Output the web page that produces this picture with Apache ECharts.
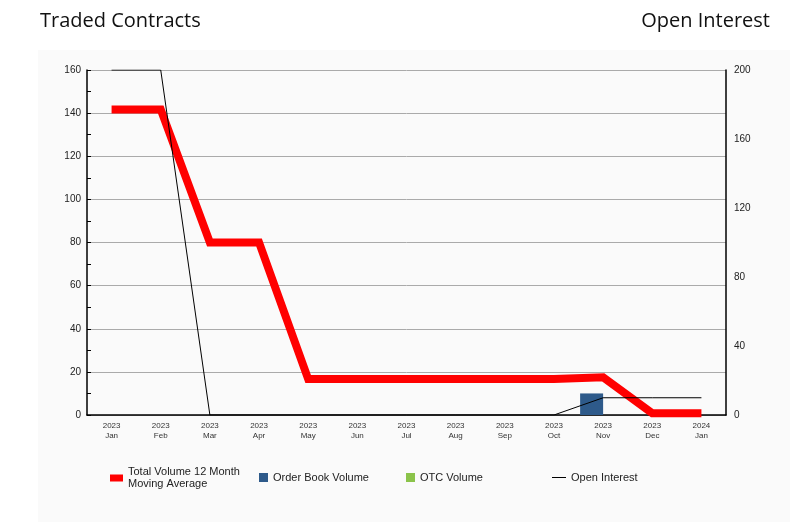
<!DOCTYPE html>
<html>
<head>
<meta charset="utf-8">
<script src="https://cdn.jsdelivr.net/npm/echarts@6/dist/echarts.min.js"></script>
<style>html,body{margin:0;padding:0;background:#fff;}#c{width:801px;height:524px;}</style>
</head>
<body>
<div id="c"></div>
<script>
var months = ['Jan','Feb','Mar','Apr','May','Jun','Jul','Aug','Sep','Oct','Nov','Dec','Jan'];
var years = ['2023','2023','2023','2023','2023','2023','2023','2023','2023','2023','2023','2023','2024'];
var movingAverage = [141.7, 141.7, 80, 80, 16.7, 16.7, 16.7, 16.7, 16.7, 16.7, 17.5, 0.8, 0.8];
var orderBookVolume = [0, 0, 0, 0, 0, 0, 0, 0, 0, 0, 10, 0, 0];
var otcVolume = [0, 0, 0, 0, 0, 0, 0, 0, 0, 0, 0, 0, 0];
var openInterest = [200, 200, 0, 0, 0, 0, 0, 0, 0, 0, 10, 10, 10];

var categories = months.map(function (m, i) { return years[i] + '\n' + m; });
var FONT = 'Liberation Sans, Arial, sans-serif';
var MA_NAME = 'Total Volume 12 Month Moving Average';

var chart = echarts.init(document.getElementById('c'), null, { renderer: 'canvas' });
chart.setOption({
  backgroundColor: '#ffffff',
  animation: false,
  graphic: [{
    type: 'rect', left: 38, top: 50, z: -10,
    shape: { width: 752, height: 472 },
    style: { fill: '#fafafa' }
  }],
  title: [
    { text: 'Traded Contracts', left: 35, top: 6,
      textStyle: { fontFamily: 'Open Sans', fontSize: 20, fontWeight: 'normal', color: '#111' } },
    { text: 'Open Interest', right: 26, top: 6,
      textStyle: { fontFamily: 'Open Sans', fontSize: 20, fontWeight: 'normal', color: '#111' } }
  ],
  legend: [
    { data: [MA_NAME], left: 110, top: 466, padding: 0, icon: 'rect', itemWidth: 13, itemHeight: 7,
      formatter: function () { return 'Total Volume 12 Month\nMoving Average'; },
      textStyle: { fontFamily: FONT, fontSize: 11, lineHeight: 12, color: '#222' } },
    { data: ['Order Book Volume'], left: 259, top: 472, padding: 0, icon: 'rect', itemWidth: 9, itemHeight: 9,
      textStyle: { fontFamily: FONT, fontSize: 11, color: '#222' } },
    { data: ['OTC Volume'], left: 406, top: 472, padding: 0, icon: 'rect', itemWidth: 9, itemHeight: 9,
      textStyle: { fontFamily: FONT, fontSize: 11, color: '#222' } },
    { data: ['Open Interest'], left: 552, top: 472, padding: 0, icon: 'rect', itemWidth: 14, itemHeight: 1,
      textStyle: { fontFamily: FONT, fontSize: 11, color: '#222' } }
  ],
  grid: { left: 87, right: 75, top: 70, bottom: 109, containLabel: false },
  xAxis: [{
    type: 'category', data: categories, boundaryGap: true,
    axisLine: { show: true, lineStyle: { color: '#000', width: 1.5 } },
    axisTick: { show: false },
    axisLabel: { fontFamily: FONT, fontSize: 8, color: '#333', lineHeight: 10, margin: 6, interval: 0 },
    splitLine: { show: false }
  }],
  yAxis: [{
    type: 'value', min: 0, max: 160, interval: 20, position: 'left',
    axisLine: { show: true, lineStyle: { color: '#000', width: 1.5 } },
    axisTick: { show: true, inside: true, length: 4, lineStyle: { color: '#000' } },
    minorTick: { show: true, splitNumber: 2, length: 4, lineStyle: { color: '#000' } },
    axisLabel: { fontFamily: FONT, fontSize: 10, color: '#222', margin: 6 },
    splitLine: { show: true, lineStyle: { color: '#aaaaaa', width: 1 } }
  }, {
    type: 'value', min: 0, max: 200, interval: 40, position: 'right',
    axisLine: { show: true, lineStyle: { color: '#000', width: 1.5 } },
    axisTick: { show: false },
    axisLabel: { fontFamily: FONT, fontSize: 10, color: '#222', margin: 8 },
    splitLine: { show: false }
  }],
  series: [{
    name: 'Order Book Volume', type: 'bar', data: orderBookVolume,
    barWidth: 23, barGap: '0%', itemStyle: { color: '#2e5a8a' }
  }, {
    name: 'OTC Volume', type: 'bar', data: otcVolume,
    barWidth: 23, barGap: '0%', itemStyle: { color: '#8bc34a' }
  }, {
    name: MA_NAME, type: 'line', data: movingAverage, symbol: 'none',
    lineStyle: { color: '#ff0000', width: 8, join: 'miter' }, itemStyle: { color: '#ff0000' }
  }, {
    name: 'Open Interest', type: 'line', yAxisIndex: 1, data: openInterest, symbol: 'none',
    lineStyle: { color: '#000', width: 1 }, itemStyle: { color: '#000' }, z: 5
  }]
});
</script>
</body>
</html>
